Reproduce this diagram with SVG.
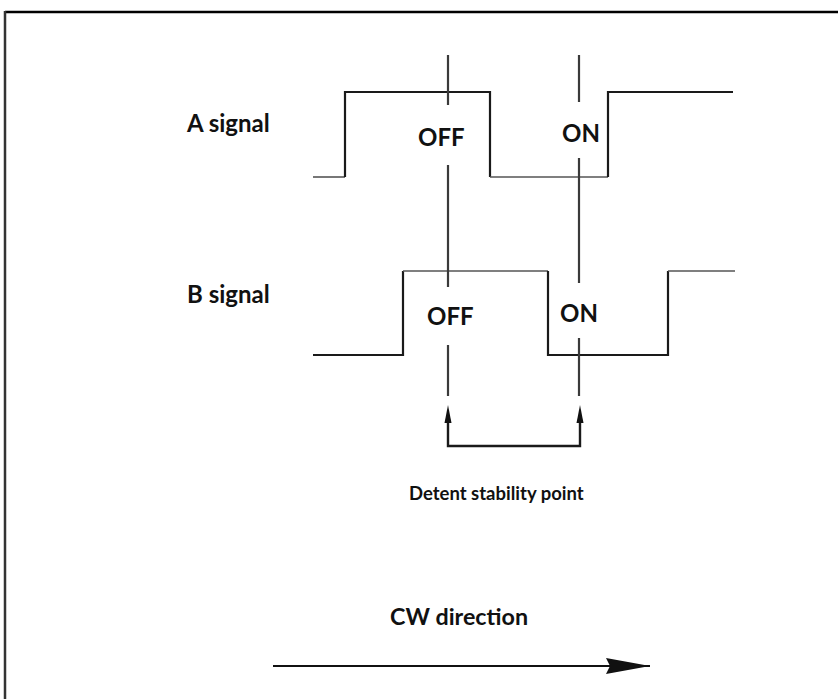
<svg xmlns="http://www.w3.org/2000/svg" width="838" height="699" viewBox="0 0 838 699">
<style>
.lbl{font-family:Lato,"Open Sans","Liberation Sans",sans-serif;font-weight:bold;font-size:24px;fill:#111}
.sig{fill:none;stroke:#1a1a1a;stroke-width:2.2}
.sigl{fill:none;stroke:#555;stroke-width:1.6}
.guide{fill:none;stroke:#3a3a3a;stroke-width:2.2}
.br{fill:none;stroke:#1a1a1a;stroke-width:2.4}
.head{fill:#111}
</style>
<defs>
<marker id="arr" markerWidth="44" markerHeight="16" refX="44" refY="8" orient="auto" markerUnits="userSpaceOnUse" viewBox="0 0 44 16">
<path d="M0,0 L44,8 L0,16 L4,8 Z" fill="#111"/>
</marker>
</defs>
<g id="frame">
<line x1="5" y1="12" x2="838" y2="12" stroke="#000" stroke-width="2.5"/>
<line x1="5" y1="11" x2="5" y2="699" stroke="#333" stroke-width="2.5"/>
</g>
<g id="signalA">
<path class="sigl" d="M313,177 H345"/>
<path class="sig" d="M345,177 V92 H490 V177"/>
<path class="sigl" d="M490,177 H608"/>
<path class="sig" d="M608,177 V92 H733"/>
<text class="lbl" x="187" y="132">A signal</text>
<text class="lbl" x="418" y="146">OFF</text>
<text class="lbl" x="562" y="142">ON</text>
</g>
<g id="signalB">
<path class="sig" d="M313,355 H403 V271"/>
<path class="sigl" d="M403,271 H548"/>
<path class="sig" d="M548,271 V355 H668 V271"/>
<path class="sigl" d="M668,271 H735"/>
<text class="lbl" x="187" y="303">B signal</text>
<text class="lbl" x="427" y="325">OFF</text>
<text class="lbl" x="560" y="322">ON</text>
</g>
<g id="connectors">
<path class="guide" d="M448,55 V105 M448,165 V287 M448,345 V396"/>
<path class="guide" d="M579,55 V102 M579,158 V283 M579,338 V396"/>
<path class="br" d="M448,420 V446 H580 V420"/>
<path class="head" d="M448,405 L451.5,423 L444.5,423 Z"/>
<path class="head" d="M580,405 L583.5,423 L576.5,423 Z"/>
<line x1="273" y1="666" x2="650" y2="666" stroke="#111" stroke-width="2.2" marker-end="url(#arr)"/>
</g>
<g id="captions">
<text class="lbl" x="409" y="500" style="font-size:18.5px">Detent stability point</text>
<text class="lbl" x="390" y="625" style="font-size:23.3px">CW direction</text>
</g>
</svg>
